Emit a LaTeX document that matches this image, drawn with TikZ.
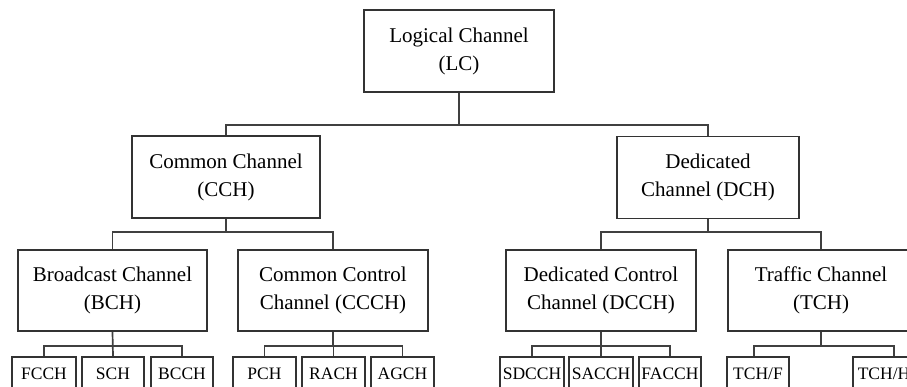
\documentclass[tikz,border=0pt]{standalone}
\usepackage{fontspec}
\setmainfont{Liberation Serif}
\begin{document}
\begin{tikzpicture}[x=1pt,y=-1pt,
  chan/.style={draw=black!80, line width=1.7pt, rectangle, align=center, inner sep=0pt,
    minimum height=82pt, font=\fontsize{21}{28}\selectfont},
  sub/.style={draw=black!80, line width=1.7pt, rectangle, align=center, inner sep=0pt,
    minimum width=62pt, minimum height=34pt, text depth=0pt,
    font=\fontsize{17.5}{20}\selectfont},
  link/.style={draw=black!75, line width=1.7pt}]
\useasboundingbox (0,0) rectangle (907,387);
\clip (0,0) rectangle (907,387);

% root
\node[chan, minimum width=190pt] (lc) at (459,51) {Logical Channel\\(LC)};

% second level
\node[chan, minimum width=188pt] (cch) at (226,177) {Common Channel\\(CCH)};
\node[chan, minimum width=182pt] (dch) at (708,177.5) {Dedicated\\Channel (DCH)};

% third level
\node[chan, minimum width=189pt, minimum height=81pt] (bch) at (112.5,290.5) {Broadcast Channel\\(BCH)};
\node[chan, minimum width=190pt, minimum height=81pt] (ccch) at (333,290.5) {Common Control\\Channel (CCCH)};
\node[chan, minimum width=190pt, minimum height=81pt] (dcch) at (601,290.5) {Dedicated Control\\Channel (DCCH)};
\node[chan, minimum width=186pt, minimum height=81pt] (tch) at (821,290.5) {Traffic Channel\\(TCH)};

% leaves
\node[sub, minimum width=64pt] (fcch) at (44,374) {FCCH};
\node[sub] (sch) at (113,374) {SCH};
\node[sub] (bcch) at (182,374) {BCCH};
\node[sub, minimum width=63pt] (pch) at (264.5,374) {PCH};
\node[sub, minimum width=63pt] (rach) at (333.5,374) {RACH};
\node[sub, minimum width=63pt] (agch) at (402.5,374) {AGCH};
\node[sub, minimum width=64pt] (sdcch) at (532,374) {SDCCH};
\node[sub, minimum width=64pt] (sacch) at (601,374) {SACCH};
\node[sub] (facch) at (670,374) {FACCH};
\node[sub] (tchf) at (758,374) {TCH/F};
\node[sub] (tchh) at (884,374) {TCH/H};

% tree connectors
\draw[link] (lc.south) -- ++(0,32) -| (cch.north);
\draw[link] (lc.south) -- ++(0,32) -| (dch.north);

\draw[link] (cch.south) -- ++(0,13) -| (bch.north);
\draw[link] (cch.south) -- ++(0,13) -| (ccch.north);
\draw[link] (dch.south) -- ++(0,13) -| (dcch.north);
\draw[link] (dch.south) -- ++(0,13) -| (tch.north);

\draw[link] (bch.south) -- ++(0,14) -| (fcch.north);
\draw[link] (bch.south) -- (sch.north);
\draw[link] (bch.south) -- ++(0,14) -| (bcch.north);

\draw[link] (ccch.south) -- ++(0,14) -| (pch.north);
\draw[link] (ccch.south) -- ++(0,14) -| (rach.north);
\draw[link] (ccch.south) -- ++(0,14) -| (agch.north);

\draw[link] (dcch.south) -- ++(0,14) -| (sdcch.north);
\draw[link] (dcch.south) -- ++(0,14) -| (sacch.north);
\draw[link] (dcch.south) -- ++(0,14) -| (facch.north);

\draw[link] (tch.south) -- ++(0,14) -| ([xshift=-4pt]tchf.north);
\draw[link] (tch.south) -- ++(0,14) -| ([xshift=10pt]tchh.north);
\end{tikzpicture}
\end{document}
